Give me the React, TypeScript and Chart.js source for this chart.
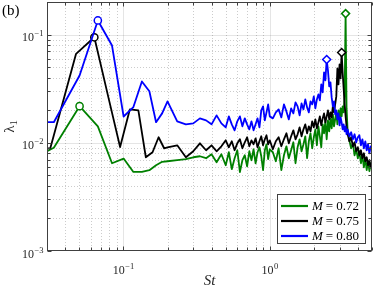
import React, { useEffect, useRef } from "react";
import { Chart, registerables } from "chart.js";

Chart.register(...registerables);

// ---------------- data ----------------
const machLabels = ["0.72", "0.75", "0.80"];
const seriesColors = ["rgb(0,128,0)", "rgb(0,0,0)", "rgb(0,0,255)"];

// low-frequency bins (St) and eigenvalue lambda_1
const stGreenLow = [0.0167, 0.0334, 0.0501, 0.0668, 0.0835, 0.1002, 0.1169, 0.1336, 0.1503, 0.167, 0.1837];
const lamGreenLow = [0.0056, 0.009, 0.0218, 0.0142, 0.00647, 0.00715, 0.00538, 0.00538, 0.00558, 0.00621, 0.00667];

const stBlackLow = [0.0158, 0.0316, 0.0474, 0.0632, 0.079, 0.0948, 0.1106, 0.1264, 0.1422, 0.158, 0.1738, 0.1896];
const lamBlackLow = [0.0085, 0.0089, 0.0664, 0.0944, 0.026, 0.00914, 0.0204, 0.0199, 0.00735, 0.00817, 0.01125, 0.0089];

const stBlueLow = [0.0167, 0.0334, 0.0501, 0.0668, 0.0835, 0.1002, 0.1169, 0.1336, 0.1503, 0.167, 0.1837];
const lamBlueLow = [0.0155, 0.0155, 0.0419, 0.135, 0.0792, 0.0175, 0.0214, 0.0369, 0.0299, 0.0155, 0.0187];

// shared St values for the higher-frequency part
const stHigh = [
  0.2, 0.233, 0.267, 0.3, 0.333, 0.367, 0.4, 0.433, 0.467, 0.5,
  0.525, 0.55, 0.575, 0.6, 0.625, 0.65, 0.675, 0.7, 0.725, 0.75,
  0.775, 0.8, 0.825, 0.85, 0.875, 0.9, 0.925, 0.95, 0.975, 1.0,
  1.05, 1.1, 1.15, 1.2, 1.25, 1.3, 1.35, 1.4, 1.45, 1.5,
  1.55, 1.6, 1.65, 1.7, 1.75, 1.8, 1.85, 1.9, 1.95, 2.0,
  2.05, 2.1, 2.15, 2.2, 2.25, 2.3, 2.35, 2.4, 2.45, 2.5,
  2.55, 2.6, 2.65, 2.7, 2.75, 2.8, 2.85, 2.9, 2.95, 3.0,
  3.05, 3.1, 3.15, 3.2, 3.25, 3.3, 3.35, 3.4,
  3.5, 3.6, 3.7, 3.8, 3.9, 4.0, 4.1, 4.2, 4.3, 4.4, 4.5, 4.6, 4.7, 4.8, 4.9, 5.0,
];

const lamGreenHigh = [
  0.00675, 0.0069, 0.00705, 0.00735, 0.00751, 0.0072, 0.00783, 0.00661, 0.00783, 0.0062,
  0.00818, 0.0057, 0.0072, 0.00853, 0.00535, 0.0069, 0.00767, 0.00607, 0.00835, 0.0069,
  0.00871, 0.00647, 0.00818, 0.00909, 0.00751, 0.00558, 0.00853, 0.00968, 0.00705, 0.00871,
  0.00818, 0.00675, 0.0089, 0.00558, 0.00767, 0.00928, 0.0072, 0.00853, 0.01011, 0.00647,
  0.00909, 0.01077, 0.00835, 0.00968, 0.01148, 0.0072, 0.01032, 0.01224, 0.0089, 0.01124,
  0.01332, 0.00948, 0.01419, 0.01148, 0.00909, 0.01481, 0.01224, 0.01578, 0.01077, 0.01611,
  0.01276, 0.01681, 0.0136, 0.0183, 0.01419, 0.01646, 0.01909, 0.01481, 0.01991, 0.01646,
  0.02078, 0.01754, 0.02169, 0.01909, 0.02683, 0.1562, 0.02078, 0.0136,
  0.01054, 0.0089, 0.00989, 0.00767, 0.00871, 0.0072, 0.00835, 0.00647, 0.00767, 0.00594, 0.0072, 0.00558, 0.00675, 0.00546, 0.00647, 0.0057,
];

const lamBlackHigh = [
  0.00909, 0.00948, 0.00735, 0.00835, 0.00989, 0.00853, 0.00948, 0.00835, 0.00928, 0.01054,
  0.00909, 0.01032, 0.00853, 0.00989, 0.01077, 0.0089, 0.01011, 0.01124, 0.00928, 0.01054,
  0.00968, 0.011, 0.00909, 0.01032, 0.01148, 0.00948, 0.01077, 0.01173, 0.00968, 0.01054,
  0.00871, 0.01032, 0.01124, 0.00928, 0.01077, 0.01224, 0.00989, 0.01148, 0.01304, 0.01077,
  0.01198, 0.01389, 0.01148, 0.01332, 0.01481, 0.01224, 0.01419, 0.01276, 0.01578, 0.01389,
  0.01646, 0.0136, 0.01545, 0.01754, 0.0145, 0.01681, 0.01869, 0.01545, 0.01754, 0.01991,
  0.01646, 0.01909, 0.01718, 0.02169, 0.01909, 0.02263, 0.02683, 0.0486, 0.0346, 0.0529,
  0.03931, 0.06825, 0.04465, 0.03179, 0.02263, 0.01754, 0.01419, 0.01224,
  0.01032, 0.01124, 0.00928, 0.01011, 0.00835, 0.00909, 0.00767, 0.00853, 0.0072, 0.008, 0.00675, 0.00735, 0.0062, 0.0069, 0.00594, 0.00647,
];

const lamBlueHigh = [
  0.02412, 0.01578, 0.01481, 0.01512, 0.01681, 0.01611, 0.01481, 0.01792, 0.01512, 0.01389,
  0.01754, 0.01481, 0.01304, 0.01578, 0.01754, 0.01419, 0.01681, 0.01481, 0.01332, 0.01578,
  0.01304, 0.01481, 0.01681, 0.01389, 0.01991, 0.02169, 0.01611, 0.01909, 0.02263, 0.01754,
  0.01681, 0.01909, 0.02035, 0.01718, 0.02263, 0.0195, 0.01646, 0.02078, 0.01869, 0.02361,
  0.02169, 0.01792, 0.02312, 0.02035, 0.02518, 0.02124, 0.01909, 0.02412, 0.02263, 0.02683,
  0.02078, 0.02518, 0.028, 0.02464, 0.0346, 0.0292, 0.04465, 0.03767, 0.05884, 0.04658,
  0.03317, 0.03611, 0.02626, 0.02169, 0.02412, 0.0183, 0.01991, 0.01646, 0.01869, 0.0145,
  0.01718, 0.01545, 0.01332, 0.01481, 0.01276, 0.01419, 0.01198, 0.01332,
  0.01148, 0.0125, 0.01077, 0.01198, 0.01011, 0.01124, 0.01173, 0.00948, 0.01077, 0.0089, 0.01032, 0.00853, 0.00968, 0.008, 0.00928, 0.00853,
];

// marked peaks (green, black, blue)
const circleSt = [0.0501, 0.0632, 0.0668];
const diamondSt = [3.3, 3.1, 2.45];

// axis ranges
const xMin = 0.03;
const xMax = 5;
const yMin = 0.001;
const yMax = 0.2;

// ---------------- drawing helpers ----------------
const SERIF = '"Liberation Serif", "DejaVu Serif", serif';
const AXIS_COLOR = "rgb(64,64,64)";
const TEXT_COLOR = "rgb(38,38,38)";

function logTicks(min: number, max: number) {
  const out: { v: number; major: boolean }[] = [];
  const e0 = Math.floor(Math.log10(min));
  const e1 = Math.ceil(Math.log10(max));
  for (let e = e0; e <= e1; e++) {
    for (let m = 1; m <= 9; m++) {
      const v = m * Math.pow(10, e);
      if (v >= min * 0.9999 && v <= max * 1.0001) out.push({ v, major: m === 1 });
    }
  }
  return out;
}

function powText(exp: number) {
  return exp < 0 ? "\u2212" + String(-exp) : String(exp);
}

function drawPow(ctx: CanvasRenderingContext2D, exp: number, x: number, yBase: number, align: "right" | "center") {
  ctx.font = `12px ${SERIF}`;
  const wb = ctx.measureText("10").width;
  ctx.font = `8.5px ${SERIF}`;
  const et = powText(exp);
  const we = ctx.measureText(et).width;
  const total = wb + we + 0.5;
  const x0 = align === "right" ? x - total : x - total / 2;
  ctx.textAlign = "left";
  ctx.textBaseline = "alphabetic";
  ctx.font = `12px ${SERIF}`;
  ctx.fillText("10", x0, yBase);
  ctx.font = `8.5px ${SERIF}`;
  ctx.fillText(et, x0 + wb + 0.5, yBase - 5);
}

const matlabAxes = {
  id: "matlabAxes",
  beforeDatasetsDraw(chart: any) {
    const { ctx, chartArea: a, scales } = chart;
    const xs = scales.x;
    const ys = scales.y;
    ctx.save();
    ctx.beginPath();
    ctx.rect(a.left, a.top, a.right - a.left, a.bottom - a.top);
    ctx.clip();
    ctx.lineWidth = 1;
    for (const t of logTicks(xMin, xMax)) {
      const px = Math.round(xs.getPixelForValue(t.v)) + 0.5;
      ctx.beginPath();
      if (t.major) {
        ctx.setLineDash([]);
        ctx.strokeStyle = "rgba(0,0,0,0.1)";
      } else {
        ctx.setLineDash([1, 2]);
        ctx.strokeStyle = "rgba(0,0,0,0.2)";
      }
      ctx.moveTo(px, a.top);
      ctx.lineTo(px, a.bottom);
      ctx.stroke();
    }
    for (const t of logTicks(yMin, yMax)) {
      const py = Math.round(ys.getPixelForValue(t.v)) + 0.5;
      ctx.beginPath();
      if (t.major) {
        ctx.setLineDash([]);
        ctx.strokeStyle = "rgba(0,0,0,0.1)";
      } else {
        ctx.setLineDash([1, 2]);
        ctx.strokeStyle = "rgba(0,0,0,0.2)";
      }
      ctx.moveTo(a.left, py);
      ctx.lineTo(a.right, py);
      ctx.stroke();
    }
    ctx.restore();
  },
  afterDraw(chart: any) {
    const { ctx, chartArea: a, scales } = chart;
    const xs = scales.x;
    const ys = scales.y;
    ctx.save();
    ctx.setLineDash([]);
    ctx.strokeStyle = AXIS_COLOR;
    ctx.lineWidth = 1;
    const L = Math.round(a.left) + 0.5;
    const R = Math.round(a.right) - 0.5;
    const T = Math.round(a.top) + 0.5;
    const B = Math.round(a.bottom) - 0.5;
    ctx.strokeRect(L, T, R - L, B - T);

    // ticks
    ctx.beginPath();
    for (const t of logTicks(xMin, xMax)) {
      const px = Math.round(xs.getPixelForValue(t.v)) + 0.5;
      const len = t.major ? 4 : 3;
      ctx.moveTo(px, B);
      ctx.lineTo(px, B - len);
      ctx.moveTo(px, T);
      ctx.lineTo(px, T + len);
    }
    for (const t of logTicks(yMin, yMax)) {
      const py = Math.round(ys.getPixelForValue(t.v)) + 0.5;
      const len = t.major ? 4 : 3;
      ctx.moveTo(L, py);
      ctx.lineTo(L + len, py);
      ctx.moveTo(R, py);
      ctx.lineTo(R - len, py);
    }
    ctx.stroke();

    // tick labels
    ctx.fillStyle = TEXT_COLOR;
    for (const t of logTicks(yMin, yMax)) {
      if (!t.major) continue;
      const py = ys.getPixelForValue(t.v);
      drawPow(ctx, Math.round(Math.log10(t.v)), 43.5, py + 6.5, "right");
    }
    for (const t of logTicks(xMin, xMax)) {
      if (!t.major) continue;
      const px = xs.getPixelForValue(t.v);
      drawPow(ctx, Math.round(Math.log10(t.v)), px, 273.5, "center");
    }

    // axis titles
    ctx.textAlign = "center";
    ctx.textBaseline = "alphabetic";
    ctx.font = `italic 15px ${SERIF}`;
    ctx.fillText("St", (a.left + a.right) / 2, 285);

    ctx.save();
    ctx.translate(9, (a.top + a.bottom) / 2);
    ctx.rotate(-Math.PI / 2);
    ctx.font = `15px ${SERIF}`;
    const wl = ctx.measureText("\u03bb").width;
    ctx.font = `10px ${SERIF}`;
    const w1 = ctx.measureText("1").width;
    const sx = -(wl + w1) / 2;
    ctx.textAlign = "left";
    ctx.font = `15px ${SERIF}`;
    ctx.fillText("\u03bb", sx, 5);
    ctx.font = `10px ${SERIF}`;
    ctx.fillText("1", sx + wl, 8);
    ctx.restore();

    // panel tag
    ctx.textAlign = "left";
    ctx.font = `15px ${SERIF}`;
    ctx.fillStyle = "#000";
    ctx.fillText("(b)", 2, 15);

    // legend
    const lw = 88;
    const lh = 49;
    const lx = Math.round(a.right) - 7 - lw;
    const ly = Math.round(a.bottom) - 8 - lh;
    ctx.fillStyle = "#fff";
    ctx.fillRect(lx, ly, lw, lh);
    ctx.strokeStyle = AXIS_COLOR;
    ctx.lineWidth = 1;
    ctx.strokeRect(lx + 0.5, ly + 0.5, lw, lh);
    for (let i = 0; i < machLabels.length; i++) {
      const cy = ly + 12 + i * 15;
      ctx.beginPath();
      ctx.strokeStyle = seriesColors[i];
      ctx.lineWidth = 2.2;
      ctx.moveTo(lx + 4, cy);
      ctx.lineTo(lx + 31, cy);
      ctx.stroke();
      ctx.fillStyle = "#000";
      ctx.textBaseline = "middle";
      ctx.font = `italic 13px ${SERIF}`;
      ctx.fillText("M", lx + 35, cy + 0.5);
      const wm = ctx.measureText("M").width;
      ctx.font = `13px ${SERIF}`;
      ctx.fillText("=", lx + 35 + wm + 3, cy + 0.5);
      const we = ctx.measureText("=").width;
      ctx.fillText(machLabels[i], lx + 35 + wm + 6 + we, cy + 0.5);
    }
    ctx.restore();
  },
};

export default function App() {
  const ref = useRef<HTMLCanvasElement | null>(null);
  useEffect(() => {
    const canvas = ref.current;
    if (!canvas) return;
    const groups: [number[], number[], number[]][] = [
      [stGreenLow, lamGreenLow, lamGreenHigh],
      [stBlackLow, lamBlackLow, lamBlackHigh],
      [stBlueLow, lamBlueLow, lamBlueHigh],
    ];
    const datasets = groups.map((g, i) => {
      const [stLow, lamLow, lamHigh] = g;
      const data = [
        ...stLow.map((s, k) => ({ x: s, y: lamLow[k] })),
        ...stHigh.map((s, k) => ({ x: s, y: lamHigh[k] })),
      ];
      const isMarker = (v: any) =>
        typeof v === "number" && (Math.abs(v - circleSt[i]) < 1e-9 || Math.abs(v - diamondSt[i]) < 1e-9);
      return {
        label: "M = " + machLabels[i],
        data,
        borderColor: seriesColors[i],
        backgroundColor: seriesColors[i],
        borderWidth: 1.8,
        tension: 0,
        borderJoinStyle: "round" as const,
        order: 3 - i,
        pointRadius: (c: any) => (isMarker(c.raw?.x) ? (c.raw.x > 1 ? 4 : 3.6) : 0),
        pointStyle: (c: any) => (c.raw && c.raw.x > 1 ? "rectRot" : "circle"),
        pointBorderColor: seriesColors[i],
        pointBackgroundColor: "#fff",
        pointBorderWidth: 1.5,
        pointHoverRadius: 0,
        pointHitRadius: 0,
      };
    });

    const chart = new Chart(canvas, {
      type: "line",
      data: { datasets } as any,
      options: {
        animation: false,
        responsive: false,
        devicePixelRatio: 1,
        events: [],
        layout: { padding: { left: 47, right: 2, top: 2, bottom: 38 } },
        scales: {
          x: { type: "logarithmic", min: xMin, max: xMax, display: false },
          y: { type: "logarithmic", min: yMin, max: yMax, display: false },
        },
        plugins: { legend: { display: false }, tooltip: { enabled: false } },
      } as any,
      plugins: [matlabAxes],
    });
    return () => chart.destroy();
  }, []);

  return (
    <div style={{ position: "absolute", left: 0, top: 0, width: 374, height: 289, background: "#fff" }}>
      <canvas ref={ref} width={374} height={289} style={{ display: "block" }} />
    </div>
  );
}
